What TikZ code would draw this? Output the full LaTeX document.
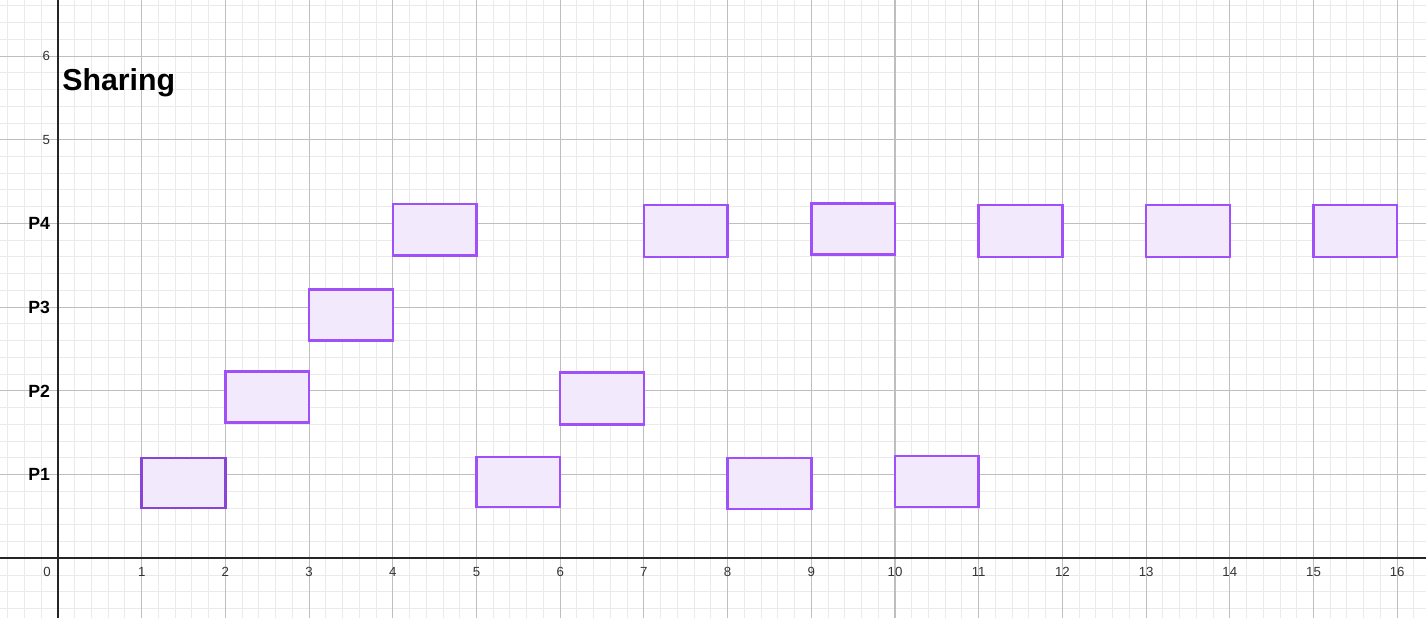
\documentclass[tikz,border=0pt]{standalone}
\usepackage{fontspec}
\setmainfont{Liberation Sans}
\definecolor{minorgrid}{RGB}{234,234,234}
\definecolor{majorgrid}{RGB}{190,190,190}
\definecolor{axiscol}{RGB}{37,37,37}
\definecolor{slotdraw}{RGB}{160,80,248}
\definecolor{slotfill}{RGB}{242,233,253}
\begin{document}
\begin{tikzpicture}[x=1cm,y=1cm,
  minorline/.style={draw=minorgrid,line width=0.34pt},
  majorline/.style={draw=majorgrid,line width=0.36pt},
  axisline/.style={draw=axiscol,line width=0.7pt},
  ticklbl/.style={font=\fontsize{4.5}{5}\selectfont,text=black!80,inner sep=0pt},
  proclbl/.style={font=\fontsize{6}{7}\selectfont\bfseries,anchor=east,inner sep=0pt},
  slot/.style={draw=slotdraw,fill=slotfill,line width=0.85pt}]
\useasboundingbox (-0.693,-0.713) rectangle (16.344,6.670);
\fill[white] (-0.693,-0.713) rectangle (16.344,6.670);
% minor grid (skipping the major positions)
\foreach \k in {-3,...,81} {
  \pgfmathtruncatemacro{\r}{mod(\k+5,5)}
  \ifnum\r=0\else\draw[minorline] (\k/5,-0.713) -- (\k/5,6.670);\fi}
\foreach \k in {-3,...,33} {
  \pgfmathtruncatemacro{\r}{mod(\k+5,5)}
  \ifnum\r=0\else\draw[minorline] (-0.693,\k/5) -- (16.344,\k/5);\fi}
% major grid
\foreach \k in {1,...,16} {\draw[majorline] (\k,-0.713) -- (\k,6.670);}
\foreach \k in {1,...,6} {\draw[majorline] (-0.693,\k) -- (16.344,\k);}
% axes
\draw[axisline] (-0.693,0) -- (16.344,0);
\draw[axisline] (0,-0.713) -- (0,6.670);
% x tick labels
\node[ticklbl] (x0) at (-0.13,-0.16) {0};
\foreach \i in {1,...,16} {\node[ticklbl] (x\i) at (\i,-0.16) {\i};}
% y tick labels
\node[ticklbl,anchor=east] (y5) at (-0.09,5) {5};
\node[ticklbl,anchor=east] (y6) at (-0.09,6) {6};
% process labels
\node[proclbl] (p1) at (-0.09,1) {P1};
\node[proclbl] (p2) at (-0.09,2) {P2};
\node[proclbl] (p3) at (-0.09,3) {P3};
\node[proclbl] (p4) at (-0.09,4) {P4};
% title
\node[font=\fontsize{10.3}{12}\selectfont\bfseries,anchor=base west,inner sep=0pt] (title) at (0.045,5.587) {Sharing};
% time slots
\draw[slot,draw=slotdraw!85!black] (1,0.60) rectangle (2,1.20);
\draw[slot] (2,1.62) rectangle (3,2.23);
\draw[slot] (3,2.60) rectangle (4,3.21);
\draw[slot] (4,3.62) rectangle (5,4.23);
\draw[slot] (5,0.61) rectangle (6,1.21);
\draw[slot] (6,1.60) rectangle (7,2.22);
\draw[slot] (7,3.60) rectangle (8,4.22);
\draw[slot] (8,0.59) rectangle (9,1.20);
\draw[slot] (9,3.63) rectangle (10,4.24);
\draw[slot] (10,0.61) rectangle (11,1.22);
\draw[slot] (11,3.60) rectangle (12,4.22);
\draw[slot] (13,3.60) rectangle (14,4.22);
\draw[slot] (15,3.60) rectangle (16,4.22);
\end{tikzpicture}
\end{document}
